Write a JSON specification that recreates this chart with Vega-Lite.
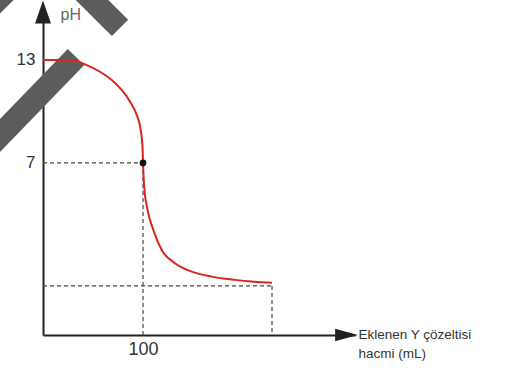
{
  "$schema": "https://vega.github.io/schema/vega-lite/v6.json",
  "width": 312,
  "height": 329,
  "autosize": {"type": "none"},
  "padding": {"left": 43, "top": 6, "right": 166, "bottom": 36},
  "background": "white",
  "config": {
    "view": {"stroke": null},
    "font": "Liberation Sans"
  },
  "datasets": {
    "bands": [
      {"x": -53, "y": 8.0, "x2": 33, "y2": 13.17},
      {"x": 37, "y": 17.19, "x2": 77, "y2": 14.86},
      {"x": -63, "y": 15.48, "x2": -25.6, "y2": 17.66}
    ],
    "guides": [
      {"x": 0, "y": 7, "x2": 100, "y2": 7},
      {"x": 100, "y": 7, "x2": 100, "y2": -3.02},
      {"x": 0, "y": -0.16, "x2": 229, "y2": -0.16},
      {"x": 229, "y": -0.16, "x2": 229, "y2": -3.02}
    ],
    "curve": [
      {"x": 0, "y": 13.0},
      {"x": 17, "y": 13.0},
      {"x": 30.3, "y": 12.95},
      {"x": 43.7, "y": 12.7},
      {"x": 57, "y": 12.31},
      {"x": 68.7, "y": 11.83},
      {"x": 78.7, "y": 11.25},
      {"x": 87, "y": 10.57},
      {"x": 93.7, "y": 9.8},
      {"x": 97.7, "y": 8.92},
      {"x": 99.5, "y": 7.95},
      {"x": 100, "y": 7.0},
      {"x": 101.2, "y": 5.62},
      {"x": 104.6, "y": 4.26},
      {"x": 110.3, "y": 3.1},
      {"x": 118.7, "y": 1.93},
      {"x": 132, "y": 1.16},
      {"x": 148.7, "y": 0.67},
      {"x": 168.7, "y": 0.38},
      {"x": 192, "y": 0.19},
      {"x": 208.7, "y": 0.09},
      {"x": 229, "y": 0.03}
    ],
    "eq": [{"x": 100, "y": 7}],
    "yarrow": [{"x": 0, "y": 15.79}],
    "xarrow": [{"x": 303.5, "y": -3.02}]
  },
  "encoding": {
    "x": {
      "field": "x",
      "type": "quantitative",
      "scale": {"domain": [0, 312], "nice": false, "zero": false},
      "axis": {
        "values": [100],
        "ticks": false,
        "grid": false,
        "domainColor": "#222222",
        "domainWidth": 2,
        "labelFontSize": 18,
        "labelColor": "#333333",
        "labelPadding": 5,
        "title": ["Eklenen Y çözeltisi", "hacmi (mL)"],
        "titleX": 315,
        "titleY": -8,
        "titleAlign": "left",
        "titleBaseline": "top",
        "titleFontSize": 13.5,
        "titleFontWeight": "normal",
        "titleColor": "#333333",
        "titleLineHeight": 19
      }
    },
    "y": {
      "field": "y",
      "type": "quantitative",
      "scale": {"domain": [-3.02, 16.14], "nice": false, "zero": false},
      "axis": {
        "values": [7, 13],
        "ticks": false,
        "grid": false,
        "domainColor": "#222222",
        "domainWidth": 2,
        "labelFontSize": 17,
        "labelColor": "#333333",
        "labelPadding": 8,
        "title": "pH",
        "titleAngle": 0,
        "titleX": 17,
        "titleY": 8,
        "titleAlign": "left",
        "titleBaseline": "middle",
        "titleFontSize": 16,
        "titleFontWeight": "normal",
        "titleColor": "#666666"
      }
    }
  },
  "layer": [
    {
      "data": {"name": "bands"},
      "mark": {"type": "rule", "strokeWidth": 23, "color": "#5c5c5c", "strokeCap": "butt"},
      "encoding": {"x2": {"field": "x2"}, "y2": {"field": "y2"}}
    },
    {
      "data": {"name": "guides"},
      "mark": {"type": "rule", "strokeWidth": 1.2, "color": "#444444", "strokeDash": [4, 3]},
      "encoding": {"x2": {"field": "x2"}, "y2": {"field": "y2"}}
    },
    {
      "data": {"name": "curve"},
      "mark": {"type": "line", "color": "#d7261f", "strokeWidth": 2, "interpolate": "monotone"}
    },
    {
      "data": {"name": "eq"},
      "mark": {"type": "point", "filled": true, "color": "#111111", "size": 45, "opacity": 1}
    },
    {
      "data": {"name": "yarrow"},
      "mark": {"type": "point", "filled": true, "color": "#222222", "opacity": 1, "size": 520, "shape": "M0,-1L0.7,1L-0.7,1Z"}
    },
    {
      "data": {"name": "xarrow"},
      "mark": {"type": "point", "filled": true, "color": "#222222", "opacity": 1, "size": 520, "shape": "M1,0L-1,0.55L-1,-0.55Z"}
    }
  ]
}
